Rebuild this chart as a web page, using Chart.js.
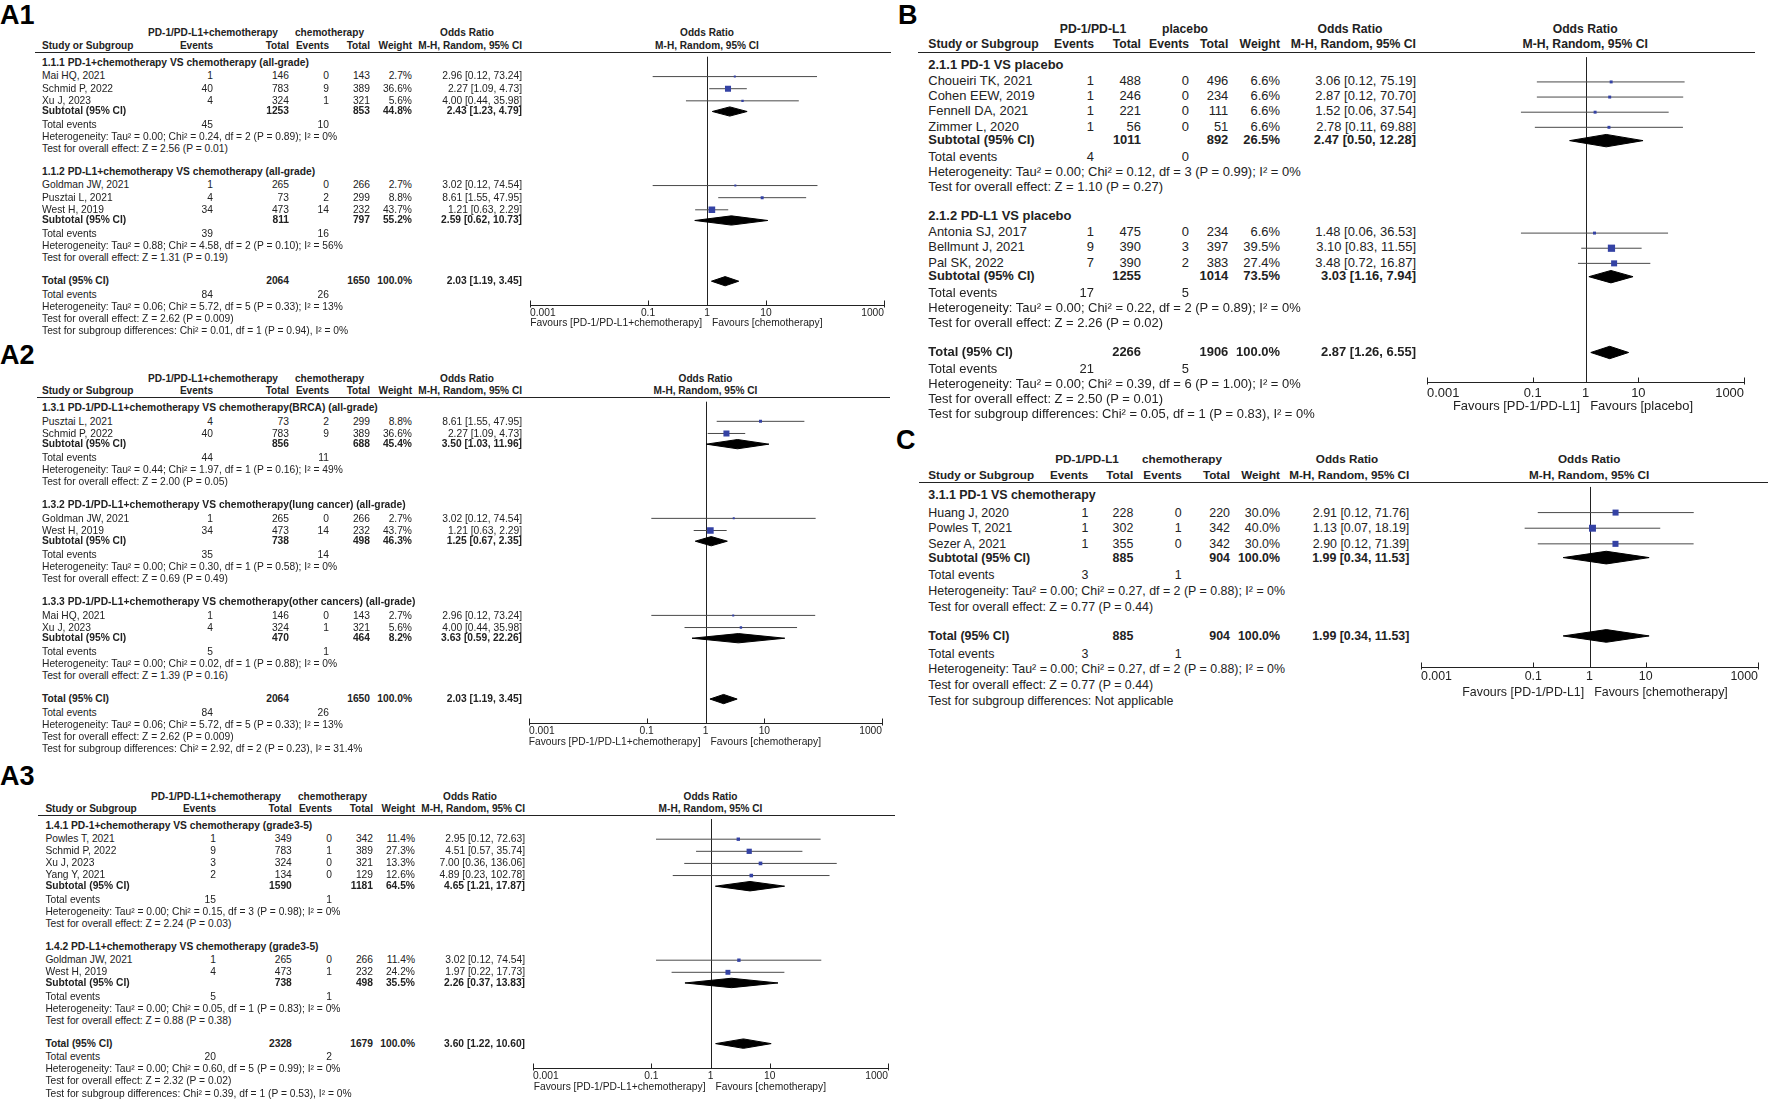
<!DOCTYPE html>
<html>
<head>
<meta charset="utf-8">
<script src="https://cdn.jsdelivr.net/npm/chart.js@4.4.1/dist/chart.umd.min.js"></script>
<style>
  body { margin: 0; background: #fff; }
  #page { position: relative; width: 1768px; height: 1101px; overflow: hidden;
          font-family: "Liberation Sans", Arial, sans-serif; color: #222; }
  .t { position: absolute; white-space: nowrap; line-height: 1; }
  .b { font-weight: bold; }
  .r { transform: translateX(-100%); }
  .c { transform: translateX(-50%); }
  .lbl { position: absolute; font: bold 27px "Liberation Sans", Arial, sans-serif; line-height: 1; color: #000; }
  .rule { position: absolute; height: 1px; background: #222; }
  canvas { position: absolute; }
</style>
</head>
<body>
<div id="page"></div>
<script>
// shared axis
const tickValues = [0.001, 0.1, 1, 10, 1000];
const tickLabels = ['0.001', '0.1', '1', '10', '1000'];

// study rows: name, exp events, exp total, ctl events, ctl total, weight %, OR, lower, upper
// subtotal rows: exp total, ctl total, weight %, OR, lower, upper, exp events, ctl events

// A1
const a1Arms = ['PD-1/PD-L1+chemotherapy', 'chemotherapy'];
const a1Favours = ['Favours [PD-1/PD-L1+chemotherapy]', 'Favours [chemotherapy]'];
const a1Groups = ['1.1.1 PD-1+chemotherapy VS chemotherapy (all-grade)', '1.1.2 PD-L1+chemotherapy VS chemotherapy (all-grade)'];
const a1Studies = [
  [['Mai HQ, 2021', 1, 146, 0, 143, 2.7, 2.96, 0.12, 73.24],
   ['Schmid P, 2022', 40, 783, 9, 389, 36.6, 2.27, 1.09, 4.73],
   ['Xu J, 2023', 4, 324, 1, 321, 5.6, 4.00, 0.44, 35.98]],
  [['Goldman JW, 2021', 1, 265, 0, 266, 2.7, 3.02, 0.12, 74.54],
   ['Pusztai L, 2021', 4, 73, 2, 299, 8.8, 8.61, 1.55, 47.95],
   ['West H, 2019', 34, 473, 14, 232, 43.7, 1.21, 0.63, 2.29]]
];
const a1Subtotals = [[1253, 853, 44.8, 2.43, 1.23, 4.79, 45, 10], [811, 797, 55.2, 2.59, 0.62, 10.73, 39, 16]];
const a1Stats = [
  ['Heterogeneity: Tau² = 0.00; Chi² = 0.24, df = 2 (P = 0.89); I² = 0%', 'Test for overall effect: Z = 2.56 (P = 0.01)'],
  ['Heterogeneity: Tau² = 0.88; Chi² = 4.58, df = 2 (P = 0.10); I² = 56%', 'Test for overall effect: Z = 1.31 (P = 0.19)']
];
const a1Total = [2064, 1650, 100.0, 2.03, 1.19, 3.45, 84, 26];
const a1TotalStats = ['Heterogeneity: Tau² = 0.06; Chi² = 5.72, df = 5 (P = 0.33); I² = 13%',
  'Test for overall effect: Z = 2.62 (P = 0.009)', 'Test for subgroup differences: Chi² = 0.01, df = 1 (P = 0.94), I² = 0%'];

// A2
const a2Groups = ['1.3.1 PD-1/PD-L1+chemotherapy VS chemotherapy(BRCA) (all-grade)',
  '1.3.2 PD-1/PD-L1+chemotherapy VS chemotherapy(lung cancer) (all-grade)',
  '1.3.3 PD-1/PD-L1+chemotherapy VS chemotherapy(other cancers) (all-grade)'];
const a2Studies = [
  [['Pusztai L, 2021', 4, 73, 2, 299, 8.8, 8.61, 1.55, 47.95],
   ['Schmid P, 2022', 40, 783, 9, 389, 36.6, 2.27, 1.09, 4.73]],
  [['Goldman JW, 2021', 1, 265, 0, 266, 2.7, 3.02, 0.12, 74.54],
   ['West H, 2019', 34, 473, 14, 232, 43.7, 1.21, 0.63, 2.29]],
  [['Mai HQ, 2021', 1, 146, 0, 143, 2.7, 2.96, 0.12, 73.24],
   ['Xu J, 2023', 4, 324, 1, 321, 5.6, 4.00, 0.44, 35.98]]
];
const a2Subtotals = [[856, 688, 45.4, 3.50, 1.03, 11.96, 44, 11], [738, 498, 46.3, 1.25, 0.67, 2.35, 35, 14],
  [470, 464, 8.2, 3.63, 0.59, 22.26, 5, 1]];
const a2Stats = [
  ['Heterogeneity: Tau² = 0.44; Chi² = 1.97, df = 1 (P = 0.16); I² = 49%', 'Test for overall effect: Z = 2.00 (P = 0.05)'],
  ['Heterogeneity: Tau² = 0.00; Chi² = 0.30, df = 1 (P = 0.58); I² = 0%', 'Test for overall effect: Z = 0.69 (P = 0.49)'],
  ['Heterogeneity: Tau² = 0.00; Chi² = 0.02, df = 1 (P = 0.88); I² = 0%', 'Test for overall effect: Z = 1.39 (P = 0.16)']
];
const a2Total = [2064, 1650, 100.0, 2.03, 1.19, 3.45, 84, 26];
const a2TotalStats = ['Heterogeneity: Tau² = 0.06; Chi² = 5.72, df = 5 (P = 0.33); I² = 13%',
  'Test for overall effect: Z = 2.62 (P = 0.009)', 'Test for subgroup differences: Chi² = 2.92, df = 2 (P = 0.23), I² = 31.4%'];

// A3
const a3Groups = ['1.4.1 PD-1+chemotherapy VS chemotherapy (grade3-5)', '1.4.2 PD-L1+chemotherapy VS chemotherapy (grade3-5)'];
const a3Studies = [
  [['Powles T, 2021', 1, 349, 0, 342, 11.4, 2.95, 0.12, 72.63],
   ['Schmid P, 2022', 9, 783, 1, 389, 27.3, 4.51, 0.57, 35.74],
   ['Xu J, 2023', 3, 324, 0, 321, 13.3, 7.00, 0.36, 136.06],
   ['Yang Y, 2021', 2, 134, 0, 129, 12.6, 4.89, 0.23, 102.78]],
  [['Goldman JW, 2021', 1, 265, 0, 266, 11.4, 3.02, 0.12, 74.54],
   ['West H, 2019', 4, 473, 1, 232, 24.2, 1.97, 0.22, 17.73]]
];
const a3Subtotals = [[1590, 1181, 64.5, 4.65, 1.21, 17.87, 15, 1], [738, 498, 35.5, 2.26, 0.37, 13.83, 5, 1]];
const a3Stats = [
  ['Heterogeneity: Tau² = 0.00; Chi² = 0.15, df = 3 (P = 0.98); I² = 0%', 'Test for overall effect: Z = 2.24 (P = 0.03)'],
  ['Heterogeneity: Tau² = 0.00; Chi² = 0.05, df = 1 (P = 0.83); I² = 0%', 'Test for overall effect: Z = 0.88 (P = 0.38)']
];
const a3Total = [2328, 1679, 100.0, 3.60, 1.22, 10.60, 20, 2];
const a3TotalStats = ['Heterogeneity: Tau² = 0.00; Chi² = 0.60, df = 5 (P = 0.99); I² = 0%',
  'Test for overall effect: Z = 2.32 (P = 0.02)', 'Test for subgroup differences: Chi² = 0.39, df = 1 (P = 0.53), I² = 0%'];

// B
const bArms = ['PD-1/PD-L1', 'placebo'];
const bFavours = ['Favours [PD-1/PD-L1]', 'Favours [placebo]'];
const bGroups = ['2.1.1 PD-1 VS placebo', '2.1.2 PD-L1 VS placebo'];
const bStudies = [
  [['Choueiri TK, 2021', 1, 488, 0, 496, 6.6, 3.06, 0.12, 75.19],
   ['Cohen EEW, 2019', 1, 246, 0, 234, 6.6, 2.87, 0.12, 70.70],
   ['Fennell DA, 2021', 1, 221, 0, 111, 6.6, 1.52, 0.06, 37.54],
   ['Zimmer L, 2020', 1, 56, 0, 51, 6.6, 2.78, 0.11, 69.88]],
  [['Antonia SJ, 2017', 1, 475, 0, 234, 6.6, 1.48, 0.06, 36.53],
   ['Bellmunt J, 2021', 9, 390, 3, 397, 39.5, 3.10, 0.83, 11.55],
   ['Pal SK, 2022', 7, 390, 2, 383, 27.4, 3.48, 0.72, 16.87]]
];
const bSubtotals = [[1011, 892, 26.5, 2.47, 0.50, 12.28, 4, 0], [1255, 1014, 73.5, 3.03, 1.16, 7.94, 17, 5]];
const bStats = [
  ['Heterogeneity: Tau² = 0.00; Chi² = 0.12, df = 3 (P = 0.99); I² = 0%', 'Test for overall effect: Z = 1.10 (P = 0.27)'],
  ['Heterogeneity: Tau² = 0.00; Chi² = 0.22, df = 2 (P = 0.89); I² = 0%', 'Test for overall effect: Z = 2.26 (P = 0.02)']
];
const bTotal = [2266, 1906, 100.0, 2.87, 1.26, 6.55, 21, 5];
const bTotalStats = ['Heterogeneity: Tau² = 0.00; Chi² = 0.39, df = 6 (P = 1.00); I² = 0%',
  'Test for overall effect: Z = 2.50 (P = 0.01)', 'Test for subgroup differences: Chi² = 0.05, df = 1 (P = 0.83), I² = 0%'];

// C
const cArms = ['PD-1/PD-L1', 'chemotherapy'];
const cFavours = ['Favours [PD-1/PD-L1]', 'Favours [chemotherapy]'];
const cGroups = ['3.1.1 PD-1 VS chemotherapy'];
const cStudies = [
  [['Huang J, 2020', 1, 228, 0, 220, 30.0, 2.91, 0.12, 71.76],
   ['Powles T, 2021', 1, 302, 1, 342, 40.0, 1.13, 0.07, 18.19],
   ['Sezer A, 2021', 1, 355, 0, 342, 30.0, 2.90, 0.12, 71.39]]
];
const cSubtotals = [[885, 904, 100.0, 1.99, 0.34, 11.53, 3, 1]];
const cStats = [
  ['Heterogeneity: Tau² = 0.00; Chi² = 0.27, df = 2 (P = 0.88); I² = 0%', 'Test for overall effect: Z = 0.77 (P = 0.44)']
];
const cTotal = [885, 904, 100.0, 1.99, 0.34, 11.53, 3, 1];
const cTotalStats = ['Heterogeneity: Tau² = 0.00; Chi² = 0.27, df = 2 (P = 0.88); I² = 0%',
  'Test for overall effect: Z = 0.77 (P = 0.44)', 'Test for subgroup differences: Not applicable'];

// ---------- drawing ----------
const page = document.getElementById('page');
const FONT = "'Liberation Sans', Arial, sans-serif";

function put(str, x, y, fs, cls) {
  const d = document.createElement('div');
  d.className = 't ' + (cls || '');
  d.style.left = x + 'px';
  d.style.top = (y - fs * 0.5) + 'px';
  d.style.fontSize = fs + 'px';
  d.textContent = str;
  page.appendChild(d);
}
const pct = v => v.toFixed(1) + '%';
const orText = (o, l, h) => o.toFixed(2) + ' [' + l.toFixed(2) + ', ' + h.toFixed(2) + ']';

// rows in "line" units, first subgroup heading = 0
function buildRows(groups, studies, subtotals, stats, total, totalStats) {
  const rows = [], marks = [], dias = [];
  let u = 0;
  groups.forEach((g, gi) => {
    if (gi) u += 1.88;
    rows.push({ u, bold: true, cells: [g] });
    u += 1.1;
    studies[gi].forEach((s, i) => {
      if (i) u += 1;
      rows.push({ u, cells: [s[0], s[1], s[2], s[3], s[4], pct(s[5]), orText(s[6], s[7], s[8])] });
      marks.push({ u, w: s[5], or: s[6], lo: s[7], hi: s[8] });
    });
    const t = subtotals[gi];
    u += 0.88;
    rows.push({ u, bold: true, cells: ['Subtotal (95% CI)', '', t[0], '', t[1], pct(t[2]), orText(t[3], t[4], t[5])] });
    dias.push({ u, or: t[3], lo: t[4], hi: t[5] });
    u += 1.13;
    rows.push({ u, cells: ['Total events', t[6], '', t[7]] });
    stats[gi].forEach(s => { u += 1; rows.push({ u, cells: [s] }); });
  });
  u += 1.88;
  rows.push({ u, bold: true, cells: ['Total (95% CI)', '', total[0], '', total[1], pct(total[2]), orText(total[3], total[4], total[5])] });
  dias.push({ u, or: total[3], lo: total[4], hi: total[5] });
  u += 1.13;
  rows.push({ u, cells: ['Total events', total[6], '', total[7]] });
  totalStats.forEach(s => { u += 1; rows.push({ u, cells: [s] }); });
  return { rows, marks, dias };
}

// vertical line of no effect + axis line with upward ticks
const forestFrame = {
  id: 'forestFrame',
  beforeDatasetsDraw(chart) {
    const { ctx, chartArea: a, scales: { x } } = chart;
    ctx.save();
    ctx.strokeStyle = '#222';
    ctx.lineWidth = 1;
    ctx.beginPath();
    const xo = Math.round(x.getPixelForValue(1)) + 0.5;
    ctx.moveTo(xo, a.top);
    ctx.lineTo(xo, a.bottom);
    const yb = Math.round(a.bottom) + 0.5;
    const first = x.getPixelForValue(tickValues[0]);
    const last = x.getPixelForValue(tickValues[tickValues.length - 1]);
    ctx.moveTo(first, yb);
    ctx.lineTo(last, yb);
    tickValues.forEach((v, i) => {
      const px = Math.round(x.getPixelForValue(v)) + 0.5;
      const end = i === 0 || i === tickValues.length - 1;
      ctx.moveTo(px, yb - 5);
      ctx.lineTo(px, yb + (end ? 2 : 0));
    });
    ctx.stroke();
    ctx.restore();
  }
};

function forest(L, arms, favours, groups, studies, subtotals, stats, total, totalStats) {
  const fs = L.fs, hfs = L.hfs, c = L.cols;
  const lab = document.createElement('div');
  lab.className = 'lbl';
  lab.style.left = L.lx + 'px';
  lab.style.top = L.ly + 'px';
  lab.textContent = L.label;
  page.appendChild(lab);

  const rule = document.createElement('div');
  rule.className = 'rule';
  rule.style.left = L.rule[0] + 'px';
  rule.style.width = (L.rule[1] - L.rule[0]) + 'px';
  rule.style.top = L.rule[2] + 'px';
  page.appendChild(rule);

  const { rows, marks, dias } = buildRows(groups, studies, subtotals, stats, total, totalStats);

  const padL = 8, padR = 8;
  const cw = Math.round(L.x1 - L.x0 + padL + padR);
  const ch = Math.round(L.axisY - L.rule[2] + 30);
  const left = L.x0 - padL, top = L.rule[2];
  const cv = document.createElement('canvas');
  cv.width = cw; cv.height = ch;
  cv.style.left = left + 'px'; cv.style.top = top + 'px';
  cv.style.width = cw + 'px'; cv.style.height = ch + 'px';
  page.appendChild(cv);

  const yMin = (L.rule[2] - L.first) / L.step;
  const yMax = (L.axisY - L.first) / L.step;
  const dh = L.dh / L.step;

  const datasets = [];
  datasets.push({
    data: marks.map(m => ({ x: m.or, y: m.u })),
    pointStyle: 'rect',
    pointRadius: marks.map(m => Math.max(2, L.k * Math.sqrt(m.w)) / 1.414),
    backgroundColor: '#3442a4', borderWidth: 0, order: 0
  });
  marks.forEach(m => datasets.push({
    data: [{ x: m.lo, y: m.u }, { x: m.hi, y: m.u }],
    showLine: true, borderColor: '#4a4a4a', borderWidth: 1, pointRadius: 0, order: 2
  }));
  dias.forEach(d => datasets.push({
    data: [{ x: d.lo, y: d.u }, { x: d.or, y: d.u - dh }, { x: d.hi, y: d.u }, { x: d.or, y: d.u + dh }, { x: d.lo, y: d.u }],
    showLine: true, fill: 'shape', backgroundColor: '#000', borderColor: '#000', borderWidth: 1, pointRadius: 0, order: 1
  }));

  const chart = new Chart(cv, {
    type: 'scatter',
    data: { datasets },
    options: {
      responsive: false,
      animation: false,
      layout: { padding: { left: padL, right: padR, top: 0, bottom: 0 } },
      plugins: { legend: { display: false }, tooltip: { enabled: false } },
      scales: {
        x: {
          type: 'logarithmic', min: tickValues[0], max: tickValues[tickValues.length - 1],
          afterBuildTicks: s => { s.ticks = tickValues.map(v => ({ value: v })); },
          afterFit: s => { s.height = 30; },
          grid: { display: false, drawTicks: false },
          border: { display: false },
          ticks: {
            autoSkip: false, maxRotation: 0, minRotation: 0, align: 'inner', padding: L.tickPad,
            color: '#222', font: { family: FONT, size: fs },
            callback: (v, i) => tickLabels[i]
          }
        },
        y: { type: 'linear', display: false, reverse: true, min: yMin, max: yMax }
      }
    },
    plugins: [forestFrame]
  });

  const xs = chart.scales.x, ys = chart.scales.y;
  const py = u => ys.getPixelForValue(u) + top;
  const x1 = xs.getPixelForValue(1) + left;

  // headers
  put(arms[0], L.armX[0], L.hdr[0], hfs, 'b c');
  put(arms[1], L.armX[1], L.hdr[0], hfs, 'b c');
  put('Odds Ratio', L.orX, L.hdr[0], hfs, 'b c');
  put('Study or Subgroup', c[0], L.hdr[1], hfs, 'b');
  ['Events', 'Total', 'Events', 'Total', 'Weight', 'M-H, Random, 95% CI'].forEach((h, i) => put(h, c[i + 1], L.hdr[1], hfs, 'b r'));
  put('Odds Ratio', x1, L.hdr[0], hfs, 'b c');
  put('M-H, Random, 95% CI', x1, L.hdr[1], hfs, 'b c');

  rows.forEach(r => {
    const y = py(r.u);
    r.cells.forEach((txt, i) => {
      if (txt === '' || txt === undefined) return;
      put(String(txt), c[i], y, fs, (r.bold ? 'b ' : '') + (i ? 'r' : ''));
    });
  });

  put(favours[0], x1 - 5, L.favY, fs, 'r');
  put(favours[1], x1 + 5, L.favY, fs, '');
}

const colsA = [42, 213, 289, 329, 370, 412, 522];
forest({ label: 'A1', lx: 0, ly: 1.5, fs: 10.25, hfs: 10.1, cols: colsA, armX: [213, 329.5], orX: 467, hdr: [33, 46],
  rule: [35, 891, 52], first: 58.7, step: 12.35, axisY: 305, x0: 530, x1: 884, tickPad: 1.9, favY: 323.5, k: 1.0, dh: 4.7 },
  a1Arms, a1Favours, a1Groups, a1Studies, a1Subtotals, a1Stats, a1Total, a1TotalStats);
forest({ label: 'A2', lx: 0, ly: 341.5, fs: 10.25, hfs: 10.1, cols: colsA, armX: [213, 329.5], orX: 467, hdr: [379, 391.3],
  rule: [37, 890, 397.3], first: 403.7, step: 12.32, axisY: 723.3, x0: 529, x1: 882, tickPad: 1.9, favY: 742.3, k: 1.0, dh: 4.7 },
  a1Arms, a1Favours, a2Groups, a2Studies, a2Subtotals, a2Stats, a2Total, a2TotalStats);
forest({ label: 'A3', lx: 0, ly: 763, fs: 10.25, hfs: 10.1, cols: [45.4, 216, 291.8, 332, 373, 415, 525], armX: [216, 332.5], orX: 470,
  hdr: [796.7, 809.3], rule: [37.5, 895, 815], first: 822, step: 12.32, axisY: 1068.3, x0: 533, x1: 887.7, tickPad: 1.9,
  favY: 1087.3, k: 1.0, dh: 4.8 },
  a1Arms, a1Favours, a3Groups, a3Studies, a3Subtotals, a3Stats, a3Total, a3TotalStats);
forest({ label: 'B', lx: 898, ly: 1.5, fs: 12.95, hfs: 12.2, cols: [928.3, 1094, 1141, 1189, 1228.3, 1280, 1416], armX: [1093, 1185],
  orX: 1350, hdr: [29, 44], rule: [918, 1755, 51.7], first: 60, step: 15.37, axisY: 381.7, x0: 1426.7, x1: 1744,
  tickPad: 3.2, favY: 406, k: 1.15, dh: 6.3 },
  bArms, bFavours, bGroups, bStudies, bSubtotals, bStats, bTotal, bTotalStats);
forest({ label: 'C', lx: 896, ly: 426.5, fs: 12.4, hfs: 11.7, cols: [928.3, 1088.3, 1133.3, 1181.7, 1230, 1280, 1409.3], armX: [1087, 1182],
  orX: 1347, hdr: [459, 474.7], rule: [919, 1768, 482.3], first: 491, step: 16.06, axisY: 667.3, x0: 1420.7, x1: 1757.7,
  tickPad: 2.0, favY: 692.3, k: 1.1, dh: 6.5 },
  cArms, cFavours, cGroups, cStudies, cSubtotals, cStats, cTotal, cTotalStats);
</script>
</body>
</html>
